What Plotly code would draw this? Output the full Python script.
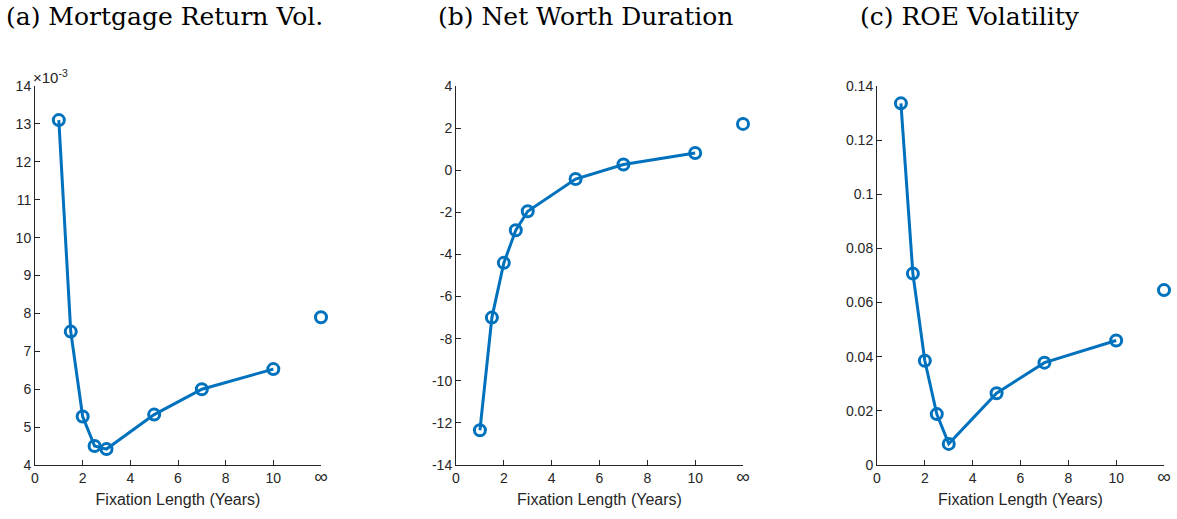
import plotly.graph_objects as go

# ---- data ----
fixation = [1, 1.5, 2, 2.5, 3, 5, 7, 10]
inf_x = 12  # position used for the "infinity" fixation length
x_ticks = [0, 2, 4, 6, 8, 10, 12]
x_ticklabels = ["0", "2", "4", "6", "8", "10", "<span style='font-size:19px'>∞</span>"]

mort_vol = [13.1e-3, 7.52e-3, 5.28e-3, 4.5e-3, 4.42e-3, 5.33e-3, 6.0e-3, 6.53e-3]
mort_vol_inf = 7.9e-3
nw_dur = [-12.35, -7.0, -4.4, -2.85, -1.95, -0.42, 0.27, 0.82]
nw_dur_inf = 2.2
roe_vol = [0.1336, 0.0707, 0.0385, 0.0188, 0.0078, 0.0265, 0.0378, 0.046]
roe_vol_inf = 0.0646

titles = ["(a) Mortgage Return Vol.", "(b) Net Worth Duration", "(c) ROE Volatility"]
x_title = "Fixation Length (Years)"

a_ticks = [0.004, 0.005, 0.006, 0.007, 0.008, 0.009, 0.010, 0.011, 0.012, 0.013, 0.014]
a_ticklabels = ["4", "5", "6", "7", "8", "9", "10", "11", "12", "13", "14"]
b_ticks = [-14, -12, -10, -8, -6, -4, -2, 0, 2, 4]
c_ticks = [0, 0.02, 0.04, 0.06, 0.08, 0.1, 0.12, 0.14]
c_ticklabels = ["0", "0.02", "0.04", "0.06", "0.08", "0.1", "0.12", "0.14"]

# ---- style ----
BLUE = "#0072BD"
AX = "#262626"
TICKFONT = dict(family="Liberation Sans, Arial", size=14, color=AX)

fig = go.Figure()

domains = [(35 / 1177, 321 / 1177), (456 / 1177, 743 / 1177), (877 / 1177, 1164 / 1177)]
ydom = (1 - 465 / 519, 1 - 86 / 519)

series = [(mort_vol, mort_vol_inf), (nw_dur, nw_dur_inf), (roe_vol, roe_vol_inf)]
for i, (ys, yinf) in enumerate(series):
    xa = "x" if i == 0 else f"x{i+1}"
    ya = "y" if i == 0 else f"y{i+1}"
    fig.add_trace(go.Scatter(
        x=fixation, y=ys, mode="lines+markers", xaxis=xa, yaxis=ya,
        line=dict(color=BLUE, width=3),
        marker=dict(symbol="circle-open", size=11, color=BLUE, line=dict(width=3, color=BLUE)),
        showlegend=False, cliponaxis=False,
    ))
    fig.add_trace(go.Scatter(
        x=[inf_x], y=[yinf], mode="markers", xaxis=xa, yaxis=ya,
        marker=dict(symbol="circle-open", size=11, color=BLUE, line=dict(width=3, color=BLUE)),
        showlegend=False, cliponaxis=False,
    ))

yranges = [(0.004, 0.014), (-14, 4), (0, 0.14)]
ytickvals = [a_ticks, b_ticks, c_ticks]
yticktexts = [a_ticklabels, [str(v) for v in b_ticks], c_ticklabels]

layout = {}
for i in range(3):
    xk = "xaxis" if i == 0 else f"xaxis{i+1}"
    yk = "yaxis" if i == 0 else f"yaxis{i+1}"
    ya = "y" if i == 0 else f"y{i+1}"
    xa = "x" if i == 0 else f"x{i+1}"
    layout[xk] = dict(
        domain=list(domains[i]), anchor=ya, range=[0, 12], automargin=False,
        tickmode="array", tickvals=x_ticks, ticktext=x_ticklabels,
        ticks="inside", ticklen=5, tickwidth=1, tickcolor=AX,
        showline=True, linecolor=AX, linewidth=1, showgrid=False, zeroline=False,
        tickfont=TICKFONT,
        title=dict(text=x_title, font=dict(family="Liberation Sans, Arial", size=16, color=AX), standoff=8),
    )
    layout[yk] = dict(
        domain=list(ydom), anchor=xa, range=list(yranges[i]), automargin=False,
        tickmode="array", tickvals=ytickvals[i], ticktext=yticktexts[i],
        ticks="inside", ticklen=5, tickwidth=1, tickcolor=AX,
        showline=True, linecolor=AX, linewidth=1, showgrid=False, zeroline=False,
        tickfont=TICKFONT,
    )

annotations = []
title_x = [4 / 1177, 436 / 1177, 858 / 1177]
for i, t in enumerate(titles):
    annotations.append(dict(
        text=t, x=title_x[i], y=1 - 17 / 519, xref="paper", yref="paper",
        xanchor="left", yanchor="middle", showarrow=False,
        font=dict(family="DejaVu Serif, serif", size=25, color="#000000"),
    ))
annotations.append(dict(
    text="×10<sup>-3</sup>", x=31 / 1177, y=1 - 76 / 519, xref="paper", yref="paper",
    xanchor="left", yanchor="middle", showarrow=False,
    font=dict(family="Liberation Sans, Arial", size=15, color=AX),
))

fig.update_layout(
    width=1177, height=519,
    margin=dict(l=0, r=0, t=0, b=0, autoexpand=False),
    paper_bgcolor="white", plot_bgcolor="white",
    annotations=annotations,
    **layout,
)

fig.write_html("out.html")
